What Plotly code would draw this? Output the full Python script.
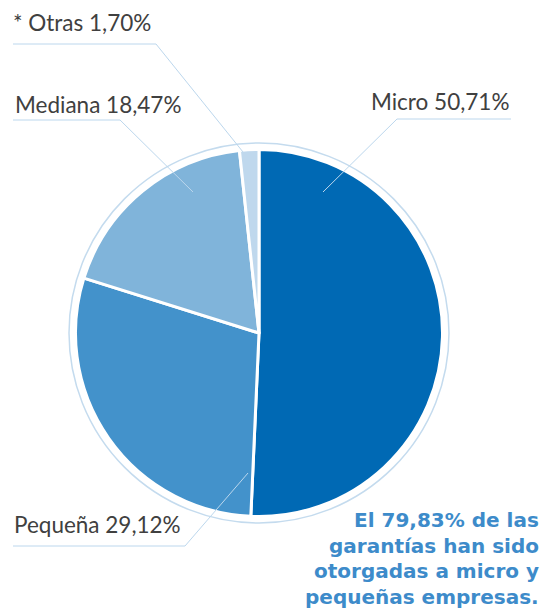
import plotly.graph_objects as go

# ---- data ----
categories = ["Micro", "Pequeña", "Mediana", "* Otras"]
shares = [50.71, 29.12, 18.47, 1.70]
label_texts = ["Micro 50,71%", "Pequeña 29,12%", "Mediana 18,47%", "* Otras 1,70%"]
colors = ["#0069b4", "#4392cb", "#80b4da", "#bfd8ed"]
note_lines = ["El 79,83% de las", "garantías han sido",
              "otorgadas a micro y", "pequeñas empresas."]

W, H = 545, 609


def px(x):
    return x / W


def py(y):
    return 1 - y / H


cx, cy, r = 259, 333, 183.5

fig = go.Figure(
    go.Pie(
        labels=categories,
        values=shares,
        sort=False,
        direction="clockwise",
        rotation=0,
        marker=dict(colors=colors, line=dict(color="white", width=3)),
        textinfo="none",
        hoverinfo="label+percent",
        showlegend=False,
        domain=dict(x=[px(cx - r), px(cx + r)], y=[py(cy + r), py(cy - r)]),
    )
)

shapes = []
# outer decorative ring
R = 190
shapes.append(dict(type="circle", xref="paper", yref="paper",
                   x0=px(cx - R), x1=px(cx + R), y0=py(cy + R), y1=py(cy - R),
                   line=dict(color="#c4dbee", width=1.5)))

lead_color = "#bcd7ed"
# leader lines: (start inside slice) -> elbow -> end of underline
leaders = [
    [(323, 192), (397, 119), (511, 119)],   # Micro
    [(248, 473), (185, 546), (13, 546)],    # Pequeña
    [(193, 192), (120, 120), (13, 120)],    # Mediana
    [(243, 152), (156, 44), (13, 44)],      # Otras
]
for pts in leaders:
    path = "M {} {}".format(px(pts[0][0]), py(pts[0][1]))
    for (x, y) in pts[1:]:
        path += " L {} {}".format(px(x), py(y))
    shapes.append(dict(type="path", xref="paper", yref="paper", path=path,
                       line=dict(color=lead_color, width=1)))

label_font = dict(family="Lato, sans-serif", size=22.5, color="#404040")
annotations = []
label_pos = [
    (511, 101, "right"),
    (12, 524, "left"),
    (13, 104, "left"),
    (11, 23, "left"),
]
for txt, (x, y, anc) in zip(label_texts, label_pos):
    annotations.append(dict(text=txt, x=px(x), y=py(y), xref="paper", yref="paper",
                            xanchor=anc, yanchor="middle", showarrow=False,
                            font=label_font))

note_font = dict(family="DejaVu Sans, sans-serif", size=20, color="#3d8bca", weight="bold")
for i, line in enumerate(note_lines):
    annotations.append(dict(text=line, x=px(541), y=py(520 + i * 25.7), xref="paper", yref="paper",
                            xanchor="right", yanchor="middle", showarrow=False,
                            font=note_font))

fig.update_layout(
    width=W, height=H,
    margin=dict(l=0, r=0, t=0, b=0),
    paper_bgcolor="white",
    plot_bgcolor="white",
    shapes=shapes,
    annotations=annotations,
)

fig.write_html("out.html", config={"displayModeBar": False},
               post_script="document.body.style.margin='0px';document.body.style.overflow='hidden';")
